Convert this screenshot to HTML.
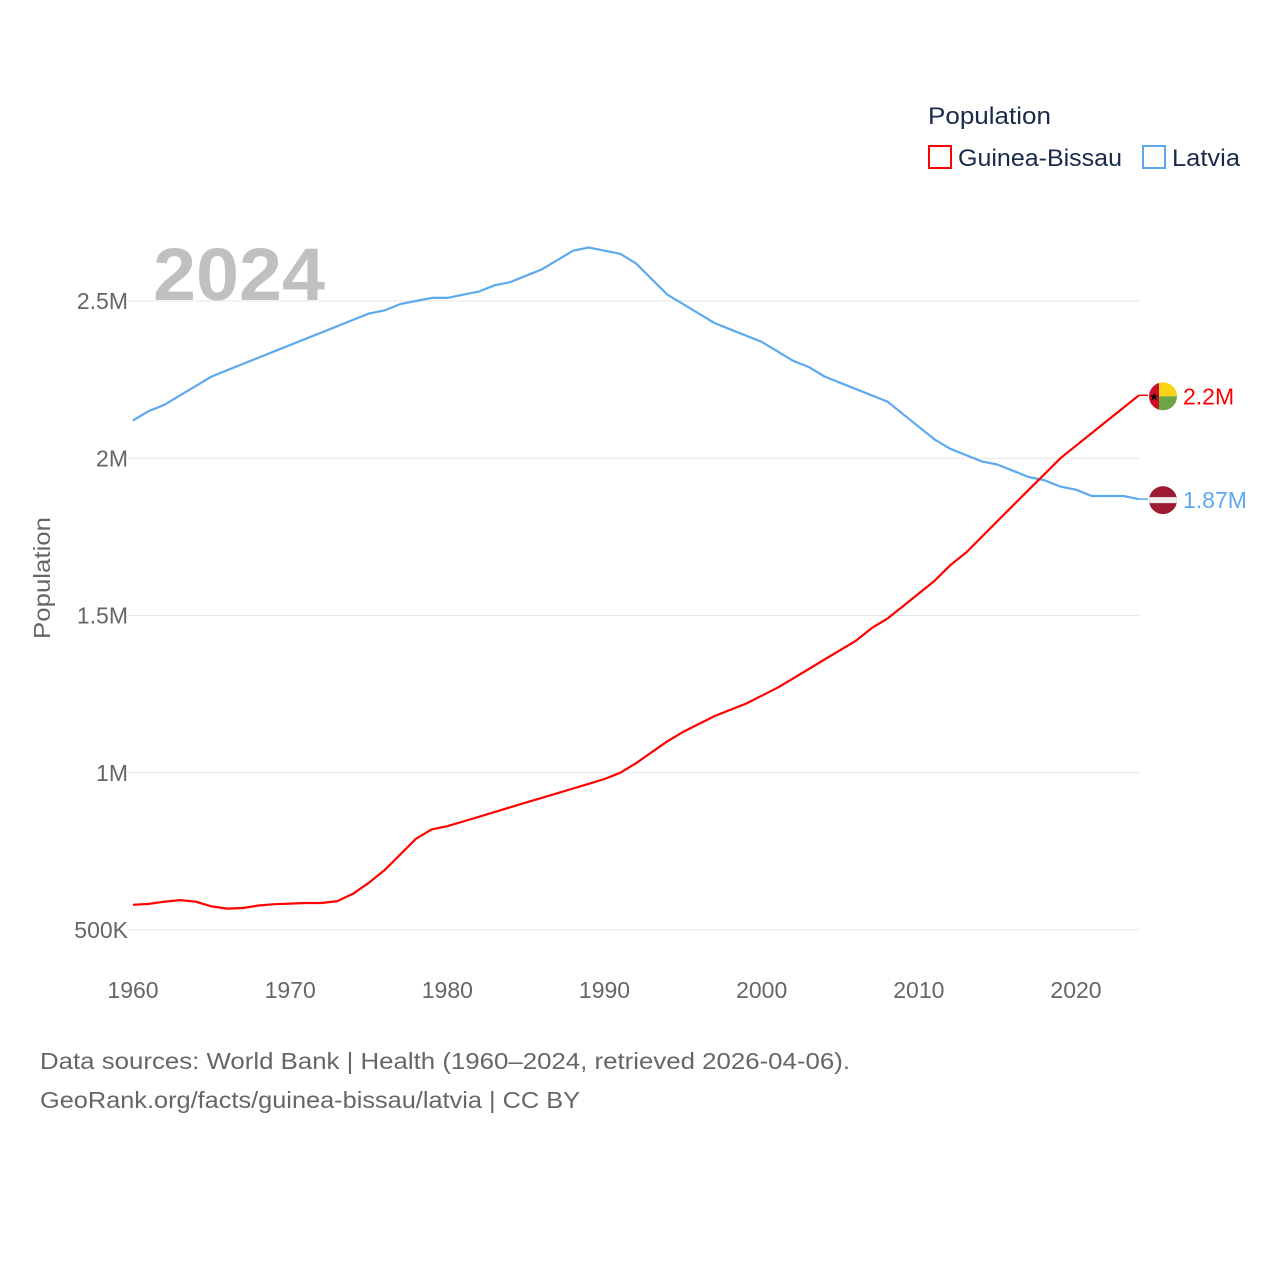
<!DOCTYPE html>
<html><head><meta charset="utf-8"><style>
body{margin:0;background:#fff;font-family:"Liberation Sans",sans-serif}
svg text{font-family:"Liberation Sans",sans-serif}
</style></head><body>
<svg id="chart" width="1280" height="1280" xmlns="http://www.w3.org/2000/svg">
<rect width="1280" height="1280" fill="#fff"/>
<g id="grid"></g>
<text x="153" y="300" font-size="74" font-weight="bold" fill="#c0c0c0" textLength="172" lengthAdjust="spacingAndGlyphs">2024</text>
<g id="ylabels"></g>
<g id="xlabels"></g>
<text transform="translate(50,578) rotate(-90)" text-anchor="middle" font-size="23" fill="#666" textLength="122" lengthAdjust="spacingAndGlyphs">Population</text>
<g id="series"></g>
<text x="928" y="124" font-size="24" fill="#1a2a4a" textLength="123" lengthAdjust="spacingAndGlyphs">Population</text>
<g>
<rect x="929" y="146" width="22" height="22" fill="none" stroke="#ff0000" stroke-width="2"/>
<text x="958" y="166" font-size="24" fill="#1a2a4a" textLength="164" lengthAdjust="spacingAndGlyphs">Guinea-Bissau</text></g>
<g>
<rect x="1143" y="146" width="22" height="22" fill="none" stroke="#5da9ee" stroke-width="2"/>
<text x="1172" y="166" font-size="24" fill="#1a2a4a" textLength="68" lengthAdjust="spacingAndGlyphs">Latvia</text></g>
<text x="40" y="1069" font-size="23" fill="#666" textLength="810" lengthAdjust="spacingAndGlyphs">Data sources: World Bank | Health (1960–2024, retrieved 2026-04-06).</text>
<text x="40" y="1108" font-size="23" fill="#666" textLength="540" lengthAdjust="spacingAndGlyphs">GeoRank.org/facts/guinea-bissau/latvia | CC BY</text>
</svg>
<script>
const years=[];for(let y=1960;y<=2024;y++)years.push(y);
const latvia=[2.12,2.15,2.17,2.20,2.23,2.26,2.28,2.30,2.32,2.34,2.36,2.38,2.40,2.42,2.44,2.46,2.47,2.49,2.50,2.51,2.51,2.52,2.53,2.55,2.56,2.58,2.60,2.63,2.66,2.67,2.66,2.65,2.62,2.57,2.52,2.49,2.46,2.43,2.41,2.39,2.37,2.34,2.31,2.29,2.26,2.24,2.22,2.20,2.18,2.14,2.10,2.06,2.03,2.01,1.99,1.98,1.96,1.94,1.93,1.91,1.90,1.88,1.88,1.88,1.87];
const guinea=[0.58,0.583,0.59,0.595,0.59,0.575,0.568,0.57,0.578,0.582,0.584,0.586,0.586,0.592,0.615,0.65,0.69,0.74,0.79,0.82,0.83,0.845,0.86,0.875,0.89,0.905,0.92,0.935,0.95,0.965,0.98,1.0,1.03,1.065,1.10,1.13,1.155,1.18,1.20,1.22,1.245,1.27,1.30,1.33,1.36,1.39,1.42,1.46,1.49,1.53,1.57,1.61,1.66,1.70,1.75,1.80,1.85,1.90,1.95,2.0,2.04,2.08,2.12,2.16,2.20];
const yTicks=[0.5,1,1.5,2,2.5];
const yTickLabels=["500K","1M","1.5M","2M","2.5M"];
const xTicks=[1960,1970,1980,1990,2000,2010,2020];
const NS="http://www.w3.org/2000/svg";
const xs=y=>133+(y-1960)*943/60;
const ys=v=>930-(v-0.5)*314.5;
function mk(t,a,p){const e=document.createElementNS(NS,t);for(const k in a)e.setAttribute(k,a[k]);p.appendChild(e);return e;}
const grid=document.getElementById('grid'),yl=document.getElementById('ylabels'),xl=document.getElementById('xlabels'),se=document.getElementById('series');
yTicks.forEach((v,i)=>{
 const l=mk('line',{x1:128,x2:1139,y1:ys(v),y2:ys(v),stroke:'#e6e6e6','stroke-width':1},grid);
 
 
 const t=mk('text',{x:128,y:ys(v)+8,'text-anchor':'end','font-size':23,fill:'#666'},yl);t.textContent=yTickLabels[i];
 
 
});
xTicks.forEach(y=>{
 const t=mk('text',{x:xs(y),y:998,'text-anchor':'middle','font-size':23,fill:'#666'},xl);t.textContent=y;
 
 
});
function line(arr,col,name){
 const d=arr.map((v,i)=>(i?'L':'M')+xs(years[i]).toFixed(1)+','+ys(v).toFixed(1)).join('');
 const p=mk('path',{d:d,fill:'none',stroke:col,'stroke-width':2.2,'stroke-linejoin':'round'},se);
 
 
}
line(latvia,'#5da9ee','latvia-line');
line(guinea,'#ff0000','guinea-bissau-line');
function endMark(arr,col,label,name,flag){
 const v=arr[arr.length-1],x=xs(years[years.length-1]),y=ys(v);
 const g=mk('g',{},se);
 
 
 mk('line',{x1:x,y1:y,x2:1148,y2:y,stroke:col,'stroke-width':1.5},g);
 const cx=1163,cy=y+1;
 const id='c'+name;
 const cp=mk('clipPath',{id:id},g);mk('circle',{cx:cx,cy:cy,r:14},cp);
 const f=mk('g',{'clip-path':'url(#'+id+')'},g);
 if(flag==='gw'){
  mk('rect',{x:cx-14,y:cy-14,width:10,height:28,fill:'#ce1126'},f);
  mk('rect',{x:cx-4,y:cy-14,width:18,height:14,fill:'#fcd116'},f);
  mk('rect',{x:cx-4,y:cy,width:18,height:14,fill:'#6ba544'},f);
  const s=mk('text',{x:cx-9,y:cy+4,'font-size':11,'text-anchor':'middle',fill:'#000'},f);s.textContent='★';
 }else{
  mk('rect',{x:cx-14,y:cy-14,width:28,height:28,fill:'#9e1b34'},f);
  mk('rect',{x:cx-14,y:cy-3,width:28,height:6,fill:'#eee'},f);
 }
 const t=mk('text',{x:1183,y:cy+8,'font-size':23,fill:col},g);t.textContent=label;
}
endMark(guinea,'#ff0000','2.2M','guinea-bissau-end-label','gw');
endMark(latvia,'#5da9ee','1.87M','latvia-end-label','lv');
</script>
</body></html>
